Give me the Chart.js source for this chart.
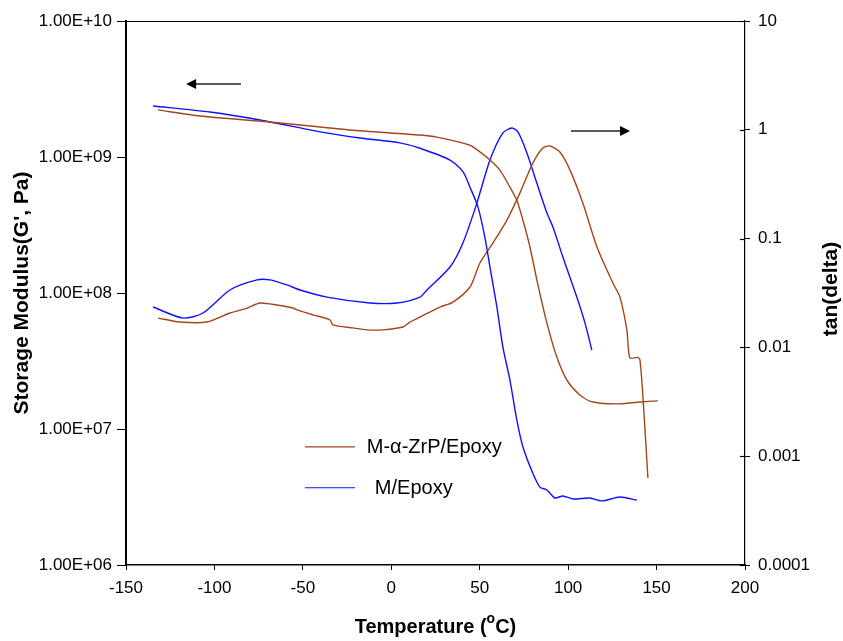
<!DOCTYPE html>
<html>
<head>
<meta charset="utf-8">
<script src="https://cdn.jsdelivr.net/npm/chart.js@4.4.1/dist/chart.umd.min.js"></script>
<style>
  html, body { margin: 0; padding: 0; background: #fff; }
  #wrap { width: 843px; height: 641px; }
</style>
</head>
<body>
<div id="wrap"><canvas id="dmaChart" width="843" height="641"></canvas></div>
<script>
// storage modulus G' (Pa), M/Epoxy
var blueGT = [-134.7, -102.5, -74.2, -40.3, -17.7, 4.9, 16.2, 33.2, 40.5, 44.5, 49.0, 52.9, 55.8, 59.7, 63.1, 67.1, 71.0, 74.4, 80.1, 84.0, 88.0, 92.5, 97.0, 102.7, 112.3, 119.1, 129.3, 138.9]
var blueG = [2.37e9, 2.14e9, 1.87e9, 1.53e9, 1.38e9, 1.27e9, 1.16e9, 9.5e8, 7.8e8, 6.0e8, 4.3e8, 2.58e8, 1.55e8, 7.9e7, 4.0e7, 2.29e7, 1.16e7, 7.4e6, 4.7e6, 3.74e6, 3.56e6, 3.11e6, 3.22e6, 3.06e6, 3.11e6, 2.96e6, 3.16e6, 3.0e6]

// storage modulus G' (Pa), M-a-ZrP/Epoxy
var brownGT = [-131.9, -108.2, -62.9, -23.4, 16.2, 25.8, 44.5, 50.1, 55.8, 61.4, 67.1, 71.0, 74.4, 78.4, 82.3, 88.0, 93.6, 99.3, 106.6, 114.0, 127.6, 140.6, 150.7]
var brownG = [2.22e9, 2.0e9, 1.78e9, 1.58e9, 1.45e9, 1.40e9, 1.22e9, 1.09e9, 9.5e8, 8.0e8, 6.0e8, 4.8e8, 3.44e8, 2.18e8, 1.25e8, 6.0e7, 3.38e7, 2.29e7, 1.78e7, 1.58e7, 1.53e7, 1.58e7, 1.61e7]

// tan(delta), M/Epoxy
var blueTanT = [-134.7, -117.8, -106.5, -91.2, -75.9, -68.6, -59.0, -51.6, -36.4, -12.1, 3.2, 16.2, 20.2, 33.2, 40.5, 48.4, 55.8, 63.1, 68.2, 71.6, 76.7, 82.3, 88.0, 91.4, 97.0, 104.9, 109.5, 113.4]
var blueTan = [0.0235, 0.0186, 0.0207, 0.0337, 0.0417, 0.0417, 0.0375, 0.0337, 0.0290, 0.0256, 0.0256, 0.0290, 0.0337, 0.0548, 0.0912, 0.212, 0.527, 0.935, 1.04, 0.955, 0.612, 0.324, 0.172, 0.128, 0.0678, 0.0290, 0.0168, 0.00946]

// tan(delta), M-a-ZrP/Epoxy
var brownTanT = [-131.9, -119.5, -104.2, -91.2, -81.6, -74.2, -64.6, -55.6, -53.3, -44.3, -34.7, -33.0, -21.7, -13.8, -4.7, 6.6, 10.5, 16.2, 27.5, 34.9, 44.5, 50.1, 57.5, 65.4, 72.7, 80.1, 85.7, 89.7, 95.3, 101.0, 108.3, 116.3, 125.3, 129.3, 133.2, 134.9, 139.4, 140.6, 142.3, 145.1]
var brownTan = [0.0186, 0.0171, 0.0171, 0.0207, 0.0230, 0.0256, 0.0245, 0.0230, 0.0221, 0.0199, 0.0179, 0.0161, 0.0151, 0.0145, 0.0145, 0.0154, 0.0171, 0.0190, 0.0235, 0.0261, 0.0359, 0.0597, 0.0912, 0.148, 0.262, 0.496, 0.681, 0.710, 0.625, 0.428, 0.212, 0.0838, 0.0391, 0.0290, 0.0145, 0.0080, 0.0081, 0.00766, 0.0035, 0.00063]

var xTicks = [-150, -100, -50, 0, 50, 100, 150, 200]
var gTicks = [1e6, 1e7, 1e8, 1e9, 1e10]
var gLabels = ['1.00E+06', '1.00E+07', '1.00E+08', '1.00E+09', '1.00E+10']
var tanTicks = [1e-4, 1e-3, 1e-2, 1e-1, 1, 10]
var tanLabels = ['0.0001', '0.001', '0.01', '0.1', '1', '10']

var legendNames = ['M-\u03b1-ZrP/Epoxy', 'M/Epoxy']

var BROWN = '#A3461C'
var BLUE = '#1010FF'
var FONT = '"Liberation Sans", Arial, sans-serif'

function pairs(xs, ys) {
  return xs.map(function(x, i) { return {x: x, y: ys[i]} })
}

function lineSet(label, xs, ys, color, axis) {
  return {
    label: label,
    data: pairs(xs, ys),
    yAxisID: axis,
    borderColor: color,
    borderWidth: 1.4,
    pointRadius: 0,
    tension: 0.25,
    fill: false
  }
}

// arrows, legend, top frame line, right title and x title with raised "o"
const extras = {
  id: 'extras',
  afterDraw(chart) {
    const {ctx, chartArea: {left, right, top, bottom, width, height}, scales} = chart
    const x = scales.x, yl = scales.yG, yr = scales.yTan

    ctx.save()
    // top frame line
    ctx.strokeStyle = '#000'
    ctx.lineWidth = 1.2
    ctx.beginPath()
    ctx.moveTo(left, top + 0.5)
    ctx.lineTo(right, top + 0.5)
    ctx.stroke()
    // inner half of the right-axis ticks
    tanTicks.forEach(function(v) {
      var py = Math.round(yr.getPixelForValue(v)) + 0.5
      ctx.beginPath()
      ctx.moveTo(right - 5, py)
      ctx.lineTo(right, py)
      ctx.stroke()
    })
    ctx.restore()

    function arrow(x1, x2, y) {
      var dir = x2 > x1 ? 1 : -1
      ctx.save()
      ctx.strokeStyle = '#222'
      ctx.fillStyle = '#000'
      ctx.lineWidth = 1.5
      ctx.beginPath()
      ctx.moveTo(x1, y)
      ctx.lineTo(x2 - dir * 8, y)
      ctx.stroke()
      ctx.beginPath()
      ctx.moveTo(x2, y)
      ctx.lineTo(x2 - dir * 10, y - 5)
      ctx.lineTo(x2 - dir * 10, y + 5)
      ctx.closePath()
      ctx.fill()
      ctx.restore()
    }
    arrow(x.getPixelForValue(-85), x.getPixelForValue(-116), yl.getPixelForValue(3.44e9))
    arrow(x.getPixelForValue(101.6), x.getPixelForValue(135), yr.getPixelForValue(0.975))

    // legend
    ctx.save()
    ctx.font = '20px ' + FONT
    ctx.textBaseline = 'middle'
    ctx.fillStyle = '#000'
    var rows = [[BROWN, 0.783, 0.389], [BLUE, 0.858, 0.402]]
    rows.forEach(function(r, i) {
      var ly = top + r[1] * height
      ctx.strokeStyle = r[0]
      ctx.lineWidth = 1.2
      ctx.beginPath()
      ctx.moveTo(left + 0.289 * width, ly)
      ctx.lineTo(left + 0.370 * width, ly)
      ctx.stroke()
      ctx.fillText(legendNames[i], left + r[2] * width, ly + 1)
    })

    // right axis title, read bottom to top
    ctx.save()
    ctx.translate(831, (top + bottom) / 2 - 4)
    ctx.rotate(-Math.PI / 2)
    ctx.font = 'bold 21px ' + FONT
    ctx.textAlign = 'center'
    ctx.textBaseline = 'middle'
    ctx.fillText('tan(delta)', 0, 0)
    ctx.restore()

    // x axis title
    var partA = 'Temperature (', partB = 'C)'
    ctx.font = 'bold 20px ' + FONT
    var wA = ctx.measureText(partA).width, wB = ctx.measureText(partB).width
    ctx.font = 'bold 14px ' + FONT
    var wO = ctx.measureText('o').width
    var tx = (left + right) / 2 - (wA + wO + wB) / 2
    var ty = 633
    ctx.textBaseline = 'alphabetic'
    ctx.font = 'bold 20px ' + FONT
    ctx.fillText(partA, tx, ty)
    ctx.font = 'bold 14px ' + FONT
    ctx.fillText('o', tx + wA, ty - 10)
    ctx.font = 'bold 20px ' + FONT
    ctx.fillText(partB, tx + wA + wO, ty)
    ctx.restore()
  }
}

Chart.defaults.font.family = FONT
Chart.defaults.color = '#000'

const config = {
  type: 'line',
  data: {
    datasets: [
      lineSet('M-\u03b1-ZrP/Epoxy G\'', brownGT, brownG, BROWN, 'yG'),
      lineSet('M/Epoxy G\'', blueGT, blueG, BLUE, 'yG'),
      lineSet('M-\u03b1-ZrP/Epoxy tan', brownTanT, brownTan, BROWN, 'yTan'),
      lineSet('M/Epoxy tan', blueTanT, blueTan, BLUE, 'yTan')
    ]
  },
  plugins: [extras],
  options: {
    responsive: false,
    animation: false,
    layout: { padding: { top: 21, left: 0, right: 0, bottom: 0 } },
    plugins: {
      legend: { display: false },
      tooltip: { enabled: false }
    },
    scales: {
      x: {
        type: 'linear',
        min: -150,
        max: 200,
        afterBuildTicks: function(scale) {
          scale.ticks = xTicks.map(function(v) { return {value: v} })
        },
        afterFit: function(scale) { scale.height = 76 },
        ticks: { font: { size: 17 }, padding: 8, maxRotation: 0 },
        grid: { drawOnChartArea: false, color: '#000', tickLength: 5, tickColor: '#000' },
        border: { color: '#000', width: 1.5 }
      },
      yG: {
        type: 'logarithmic',
        position: 'left',
        min: 1e6,
        max: 1e10,
        afterBuildTicks: function(scale) {
          scale.ticks = gTicks.map(function(v) { return {value: v} })
        },
        afterFit: function(scale) { scale.width = 126 },
        ticks: {
          font: { size: 17 },
          padding: 5,
          callback: function(v) { return gLabels[gTicks.indexOf(v)] }
        },
        title: {
          display: true,
          text: 'Storage Modulus(G\', Pa)',
          font: { size: 21, weight: 'bold' },
          padding: { top: 10, bottom: 0 }
        },
        grid: { drawOnChartArea: false, tickLength: 9, tickColor: '#000' },
        border: { color: '#000', width: 2 }
      },
      yTan: {
        type: 'logarithmic',
        position: 'right',
        min: 1e-4,
        max: 10,
        afterBuildTicks: function(scale) {
          scale.ticks = tanTicks.map(function(v) { return {value: v} })
        },
        afterFit: function(scale) { scale.width = 98 },
        ticks: {
          font: { size: 17 },
          padding: 8,
          callback: function(v) { return tanLabels[tanTicks.indexOf(v)] }
        },
        title: { display: false },
        grid: { drawOnChartArea: false, tickLength: 5, tickColor: '#000' },
        border: { color: '#000', width: 1.2 }
      }
    }
  }
}

const myChart = new Chart(document.getElementById('dmaChart'), config)
</script>
</body>
</html>
